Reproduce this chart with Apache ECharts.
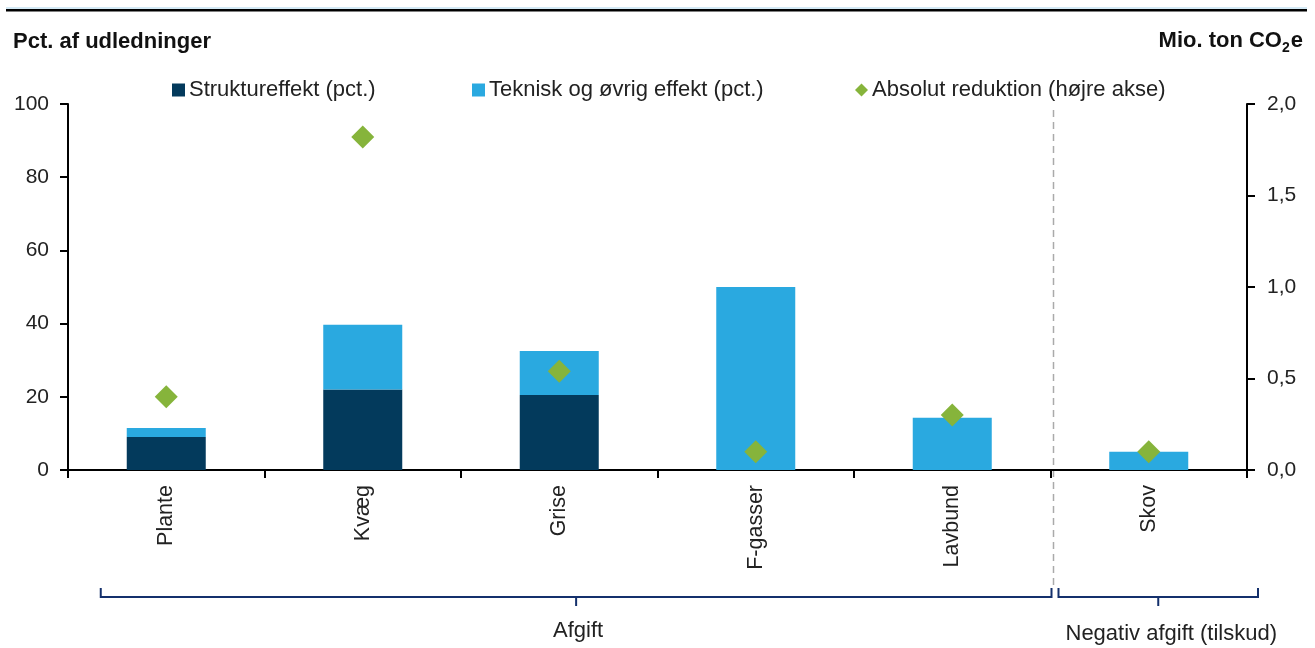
<!DOCTYPE html>
<html>
<head>
<meta charset="utf-8">
<script src="https://cdn.jsdelivr.net/npm/echarts@6/dist/echarts.min.js"></script>
<style>
  html, body { margin: 0; padding: 0; background: #fff; }
  #chart { width: 1315px; height: 648px; }
</style>
</head>
<body>
<div id="chart"></div>
<script>
const categories = ["Plante", "Kvæg", "Grise", "F-gasser", "Lavbund", "Skov"];
const struktur = [9, 22, 20.5, 0, 0, 0];
const teknisk = [2.5, 17.7, 12, 50, 14.3, 5];
const reduktion = [0.4, 1.82, 0.54, 0.1, 0.3, 0.1];
const leftTicks = [0, 100, 20];
const rightTicks = [0, 2, 0.5];
const groups = [
  { name: "Afgift", from: 0, to: 4 },
  { name: "Negativ afgift (tilskud)", from: 5, to: 5 }
];

const font = "Liberation Sans, Arial, Helvetica, sans-serif";
const dark = "#033a5c";
const light = "#2aa9e0";
const green = "#86b43b";
const navy = "#14306c";

const chart = echarts.init(document.getElementById("chart"));

const legendBase = {
  top: 79,
  padding: 0,
  itemWidth: 13,
  itemHeight: 13,
  itemGap: 4,
  textStyle: { fontFamily: font, fontSize: 22, color: "#222", padding: [0, 0, 0, -1] }
};

chart.setOption({
  animation: false,
  textStyle: { fontFamily: font },
  grid: { left: 68, right: 68, top: 104, bottom: 178 },
  legend: [
    { ...legendBase, left: 172, icon: "rect", data: ["Struktureffekt (pct.)"] },
    { ...legendBase, left: 472, icon: "rect", data: ["Teknisk og øvrig effekt (pct.)"] },
    { ...legendBase, left: 855, icon: "diamond", data: ["Absolut reduktion (højre akse)"] }
  ],
  xAxis: {
    type: "category",
    data: categories,
    axisLine: { lineStyle: { color: "#000", width: 2 } },
    axisTick: { show: true, length: 8, lineStyle: { color: "#000", width: 2 } },
    axisLabel: { rotate: 90, fontSize: 21.5, color: "#222", margin: 15 }
  },
  yAxis: [
    {
      type: "value",
      min: leftTicks[0], max: leftTicks[1], interval: leftTicks[2],
      axisLine: { show: true, lineStyle: { color: "#000", width: 2 } },
      axisTick: { show: true, length: 8, lineStyle: { color: "#000", width: 2 } },
      axisLabel: { fontSize: 21, color: "#222", margin: 19 },
      splitLine: { show: false }
    },
    {
      type: "value",
      min: rightTicks[0], max: rightTicks[1], interval: rightTicks[2],
      position: "right",
      axisLine: { show: true, lineStyle: { color: "#000", width: 2 } },
      axisTick: { show: true, length: 8, lineStyle: { color: "#000", width: 2 } },
      axisLabel: {
        fontSize: 21, color: "#222", margin: 20,
        formatter: v => v.toFixed(1).replace(".", ",")
      },
      splitLine: { show: false }
    }
  ],
  series: [
    {
      name: "Struktureffekt (pct.)", type: "bar", stack: "a",
      barWidth: 79, data: struktur, itemStyle: { color: dark }
    },
    {
      name: "Teknisk og øvrig effekt (pct.)", type: "bar", stack: "a",
      barWidth: 79, data: teknisk, itemStyle: { color: light }
    },
    {
      name: "Absolut reduktion (højre akse)", type: "scatter", yAxisIndex: 1,
      symbol: "diamond", symbolSize: 23, data: reduktion,
      itemStyle: { color: green, opacity: 1 }, z: 5
    }
  ]
});

// annotations placed from the category axis
const cx = i => chart.convertToPixel({ xAxisIndex: 0 }, categories[i]);
const catW = cx(1) - cx(0);
const sep = (cx(4) + cx(5)) / 2;
const yBr = 597;

function bracket(x1, x2) {
  return {
    type: "polyline",
    shape: { points: [[x1, yBr - 9], [x1, yBr], [x2, yBr], [x2, yBr - 9]] },
    style: { stroke: navy, lineWidth: 2, fill: null }
  };
}
function tipMark(x) {
  return {
    type: "line",
    shape: { x1: x, y1: yBr, x2: x, y2: yBr + 9 },
    style: { stroke: navy, lineWidth: 2 }
  };
}

const b1x1 = cx(0) - catW / 3;
const b1x2 = sep + 1;
const b2x1 = sep + 8;
const b2x2 = cx(5) + catW / 2 + 11;
const t1 = (b1x1 + b1x2) / 2;
const t2 = (b2x1 + b2x2) / 2;

chart.setOption({
  graphic: [
    { type: "rect", shape: { x: 6, y: 7.5, width: 1301, height: 1 }, style: { fill: "#a9d5ee" } },
    { type: "rect", shape: { x: 6, y: 9, width: 1301, height: 2.5 }, style: { fill: "#000" } },
    {
      type: "text", left: 13, top: 31,
      style: { text: "Pct. af udledninger", fontFamily: font, fontSize: 22, fontWeight: "bold", fill: "#111" }
    },
    {
      type: "text", right: 12, top: 30,
      style: {
        text: "{b|Mio. ton CO}{s|2}{b|e}",
        rich: {
          b: { fontFamily: font, fontSize: 22, fontWeight: "bold", fill: "#111", lineHeight: 26, verticalAlign: "bottom" },
          s: { fontFamily: font, fontSize: 14, fontWeight: "bold", fill: "#111", lineHeight: 14, verticalAlign: "bottom", padding: [0, 1, -3, 0] }
        }
      }
    },
    {
      type: "line",
      shape: { x1: sep + 3, y1: 110, x2: sep + 3, y2: 590 },
      style: { stroke: "#aaa", lineWidth: 1.5, lineDash: [7, 5] }
    },
    bracket(b1x1, b1x2),
    tipMark(t1),
    bracket(b2x1, b2x2),
    tipMark(t2),
    {
      type: "text", x: t1 + 2, y: 631,
      style: { text: groups[0].name, fontFamily: font, fontSize: 22, fill: "#222", align: "center", verticalAlign: "middle" }
    },
    {
      type: "text", x: t2 + 13, y: 634,
      style: { text: groups[1].name, fontFamily: font, fontSize: 22, fill: "#222", align: "center", verticalAlign: "middle" }
    }
  ]
});
</script>
</body>
</html>
